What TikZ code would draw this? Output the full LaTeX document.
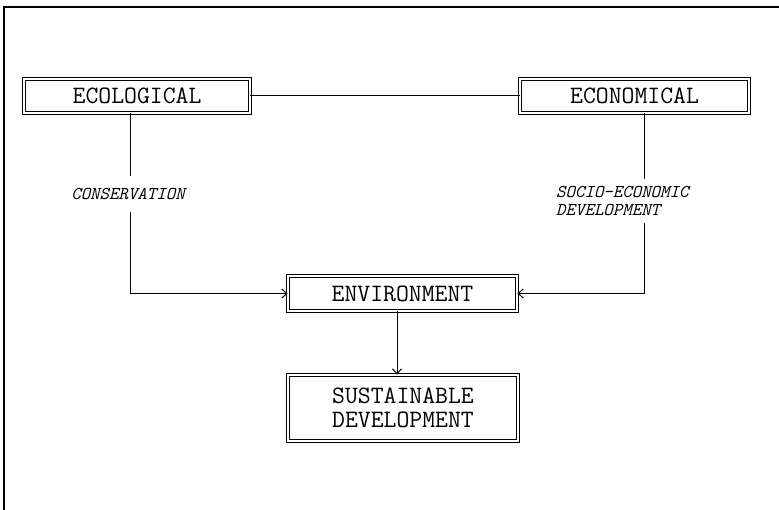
\documentclass[tikz,border=0pt]{standalone}
\usepackage{fontspec}
\usetikzlibrary{arrows.meta}
\tikzset{
  box/.style={draw=black, double=white, line width=0.9pt, double distance=2pt,
    inner sep=0pt, align=center, font=\ttfamily\fontsize{25}{24}\selectfont},
  lab/.style={fill=white, inner xsep=1pt, align=left,
    font=\ttfamily\itshape\fontsize{18}{18}\selectfont},
  conn/.style={line width=1pt},
  arr/.style={conn, -{Straight Barb[length=5pt,width=9pt]}}
}
\begin{document}
\begin{tikzpicture}[x=1pt,y=-1pt]
\useasboundingbox (0,0) rectangle (779,510);
\fill[white] (0,0) rectangle (779,510);
% frame (top and left only)
\draw[line width=2pt] (4,510) -- (4,7) -- (779,7);
% boxes
\node[box, minimum width=226pt, minimum height=34pt] (eco) at (137,96) {ECOLOGICAL};
\node[box, minimum width=229pt, minimum height=34pt] (econ) at (634.5,96) {ECONOMICAL};
\node[box, minimum width=229pt, minimum height=35pt] (env) at (402.5,293.5) {ENVIRONMENT};
\node[box, minimum width=230pt, minimum height=66pt] (sust) at (403,408) {SUSTAINABLE\\DEVELOPMENT};
% helper coordinates for the vertical runs
\coordinate (c1) at (130,0);
\coordinate (c2) at (644,0);
\coordinate (c3) at (397,0);
% connectors
\draw[conn] (eco.east) -- (econ.west);
\draw[arr] (eco.south -| c1) |- (env.west);
\draw[arr] (econ.south -| c2) |- (env.east);
\draw[arr] (env.south -| c3) -- (sust.north -| c3);
% labels on the lines
\node[lab, inner ysep=12pt] (cons) at (128,194) {CONSERVATION};
\node[lab, anchor=west, inner ysep=7pt] (socio) at (555,201) {SOCIO-ECONOMIC\\DEVELOPMENT};
\end{tikzpicture}
\end{document}
